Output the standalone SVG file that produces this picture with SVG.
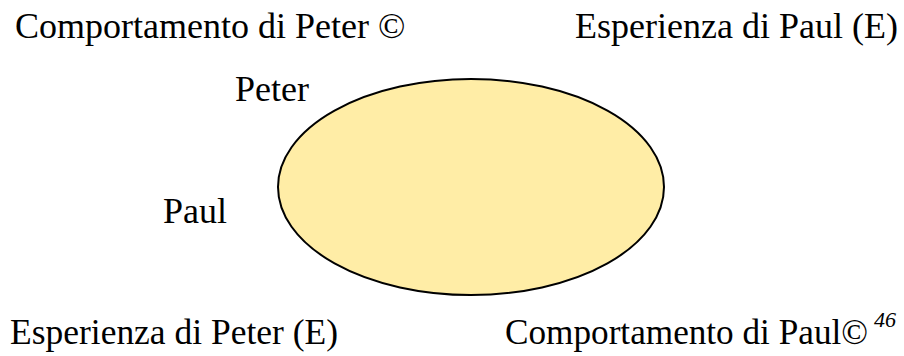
<svg xmlns="http://www.w3.org/2000/svg" width="904" height="356" viewBox="0 0 904 356">
<style>
text{font-family:"Liberation Serif","Times New Roman",serif;font-size:36px;fill:#000}
.sup{font-size:22px;font-style:italic}
</style>
<rect width="904" height="356" fill="#fff"/>
<g id="ellipse"><ellipse cx="471" cy="187" rx="193" ry="108" fill="#FFEDA6" stroke="#000" stroke-width="2"/></g>
<g id="connectors"></g>
<g id="label-top-left"><text x="15" y="38">Comportamento di Peter ©</text></g>
<g id="label-top-right"><text x="575" y="38">Esperienza di Paul (E)</text></g>
<g id="label-peter"><text x="235" y="101">Peter</text></g>
<g id="label-paul"><text x="163" y="223">Paul</text></g>
<g id="label-bottom-left"><text x="10" y="344" textLength="328" lengthAdjust="spacingAndGlyphs">Esperienza di Peter (E)</text></g>
<g id="label-bottom-right"><text x="505" y="344" textLength="363" lengthAdjust="spacingAndGlyphs">Comportamento di Paul©</text><text class="sup" x="874" y="327">46</text></g>
</svg>
